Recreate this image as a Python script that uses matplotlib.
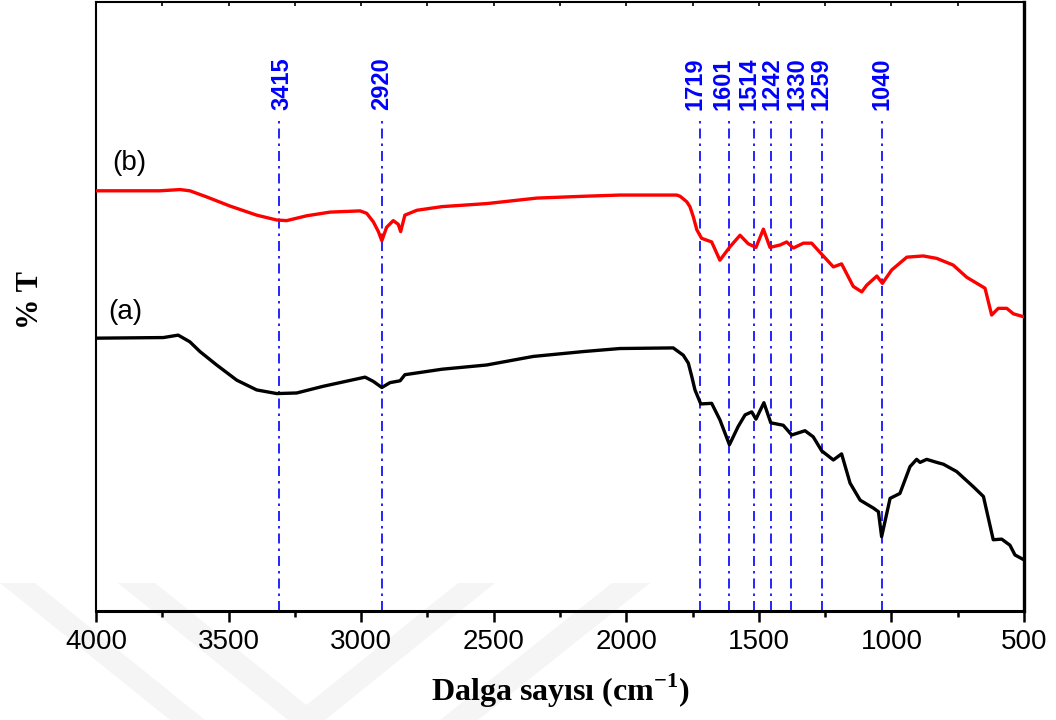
import matplotlib.pyplot as plt
from matplotlib.patches import Polygon
from matplotlib.ticker import MultipleLocator

plt.rcParams['font.family'] = ['Liberation Sans', 'DejaVu Sans']
plt.rcParams['mathtext.fontset'] = 'custom'
plt.rcParams['mathtext.rm'] = 'Liberation Serif'
plt.rcParams['mathtext.bf'] = 'Liberation Serif:bold'

# spektrum (a) - siyah
wn_a = [4000, 3746, 3690, 3646, 3608, 3545, 3469, 3394, 3318, 3243, 3143, 2985,
        2954, 2922, 2891, 2853, 2835, 2695, 2526, 2351, 2162, 2024, 1823, 1785,
        1766, 1753, 1741, 1719, 1678, 1647, 1611, 1578, 1552, 1527, 1511, 1481,
        1455, 1408, 1376, 1326, 1295, 1263, 1219, 1188, 1156, 1118, 1068, 1049,
        1037, 1005, 968, 930, 905, 892, 867, 829, 804, 754, 691, 653, 616, 584,
        553, 534, 500]
t_a = [44.8, 44.9, 45.3, 44.2, 42.6, 40.4, 37.9, 36.3, 35.7, 35.8, 36.9, 38.4,
       37.7, 36.7, 37.5, 37.8, 38.8, 39.7, 40.4, 41.8, 42.6, 43.1, 43.2, 42.0,
       40.7, 38.5, 36.3, 34.0, 34.1, 31.4, 27.3, 30.3, 32.2, 32.7, 31.5, 34.2,
       30.9, 30.5, 28.9, 29.6, 28.6, 26.3, 24.8, 25.8, 21.0, 18.2, 16.9, 16.3,
       12.2, 18.5, 19.3, 23.7, 24.9, 24.4, 24.9, 24.4, 24.1, 22.9, 20.4, 18.8,
       11.7, 11.8, 10.8, 9.2, 8.4]

# spektrum (b) - kirmizi
wn_b = [4000, 3759, 3683, 3646, 3583, 3495, 3394, 3318, 3281, 3205, 3117, 3004,
        2979, 2954, 2935, 2922, 2904, 2879, 2860, 2851, 2835, 2790, 2695, 2526,
        2338, 2162, 2024, 1810, 1797, 1772, 1760, 1747, 1734, 1716, 1678, 1647,
        1609, 1571, 1540, 1511, 1483, 1458, 1420, 1395, 1370, 1332, 1301, 1257,
        1219, 1188, 1144, 1112, 1093, 1055, 1034, 999, 942, 880, 829, 767, 716,
        647, 622, 597, 565, 540, 500]
t_b = [69.0, 69.0, 69.2, 69.0, 68.0, 66.5, 65.0, 64.2, 64.1, 64.9, 65.5, 65.7,
       65.3, 63.9, 62.3, 60.8, 63.0, 64.1, 63.5, 62.3, 65.0, 65.8, 66.4, 66.9,
       67.8, 68.1, 68.3, 68.3, 68.1, 67.2, 66.4, 64.7, 62.6, 61.2, 60.6, 57.6,
       59.8, 61.7, 60.3, 59.7, 62.7, 59.7, 60.1, 60.6, 59.6, 60.4, 60.4, 58.3,
       56.5, 57.0, 53.3, 52.4, 53.5, 55.0, 53.8, 56.0, 58.1, 58.3, 57.9, 56.8,
       54.8, 53.0, 48.6, 49.7, 49.7, 48.8, 48.3]

# pik cizgileri ve etiketleri
peak_pos = [3310, 2922, 1722, 1613, 1518, 1453, 1378, 1261, 1036]
label_x = [3297, 2921, 1741, 1635, 1537, 1450, 1356, 1266, 1036]
label_text = ['3415', '2920', '1719', '1601', '1514', '1242', '1330', '1259', '1040']

fig = plt.figure(figsize=(10.56, 7.2), dpi=100)

# arka plandaki soluk filigran
W, H = 1056.0, 720.0
bands = [
    [(0, 583), (35, 583), (205, 720), (170, 720)],
    [(118, 583), (155, 583), (325, 720), (288, 720)],
    [(288, 720), (325, 720), (495, 583), (458, 583)],
    [(440, 720), (478, 720), (650, 583), (612, 583)],
]
for b in bands:
    pts = [(x / W, 1 - y / H) for x, y in b]
    fig.patches.append(Polygon(pts, closed=True, transform=fig.transFigure,
                               facecolor='#f5f5f5', edgecolor='none', zorder=0))

ax = fig.add_axes([96 / W, 1 - 611 / H, 928 / W, 609 / H])
ax.set_facecolor('none')
ax.set_zorder(2)

ax.plot(wn_a, t_a, color='black', lw=2.4, zorder=3)
ax.plot(wn_b, t_b, color='red', lw=2.4, zorder=3)

for p in peak_pos:
    ax.plot([p, p], [0, 80.6], color='blue', lw=1.2, dashes=[6, 3, 1.5, 3], zorder=2)
for lx, s in zip(label_x, label_text):
    ax.text(lx, 82.3, s, rotation=90, ha='center', va='bottom', color='blue',
            fontsize=17, fontweight='bold')

ax.text(3890, 49.1, '(a)', fontsize=20, ha='center', va='center')
ax.text(3876, 73.6, '(b)', fontsize=20, ha='center', va='center')

ax.set_xlim(4000, 500)
ax.set_ylim(0, 100)
ax.set_yticks([])
ax.xaxis.set_major_locator(MultipleLocator(500))
ax.xaxis.set_minor_locator(MultipleLocator(250))
ax.tick_params(axis='x', which='major', direction='out', length=8, width=1.8,
               labelsize=20, pad=5)
ax.tick_params(axis='x', which='minor', direction='out', length=4.5, width=1.8)

ax.spines['left'].set_linewidth(1.5)
ax.spines['top'].set_linewidth(1.5)
ax.spines['bottom'].set_linewidth(2.2)
ax.spines['right'].set_linewidth(2.4)

# ust eksende kisa ic tikler
sec = ax.secondary_xaxis('top')
sec.xaxis.set_major_locator(MultipleLocator(250))
sec.tick_params(direction='in', length=3, width=1.2, labeltop=False)
sec.spines['top'].set_visible(False)

ax.set_xlabel(r'Dalga sayısı (cm$^{\mathbf{-1}}$)', fontsize=23, fontweight='bold',
              family='Liberation Serif', labelpad=12)
fig.text(30 / W, 1 - 300 / H, '% T', rotation=90, ha='center', va='center',
         fontsize=22, fontweight='bold', family='Liberation Serif')

fig.savefig('out.png', dpi=100)
